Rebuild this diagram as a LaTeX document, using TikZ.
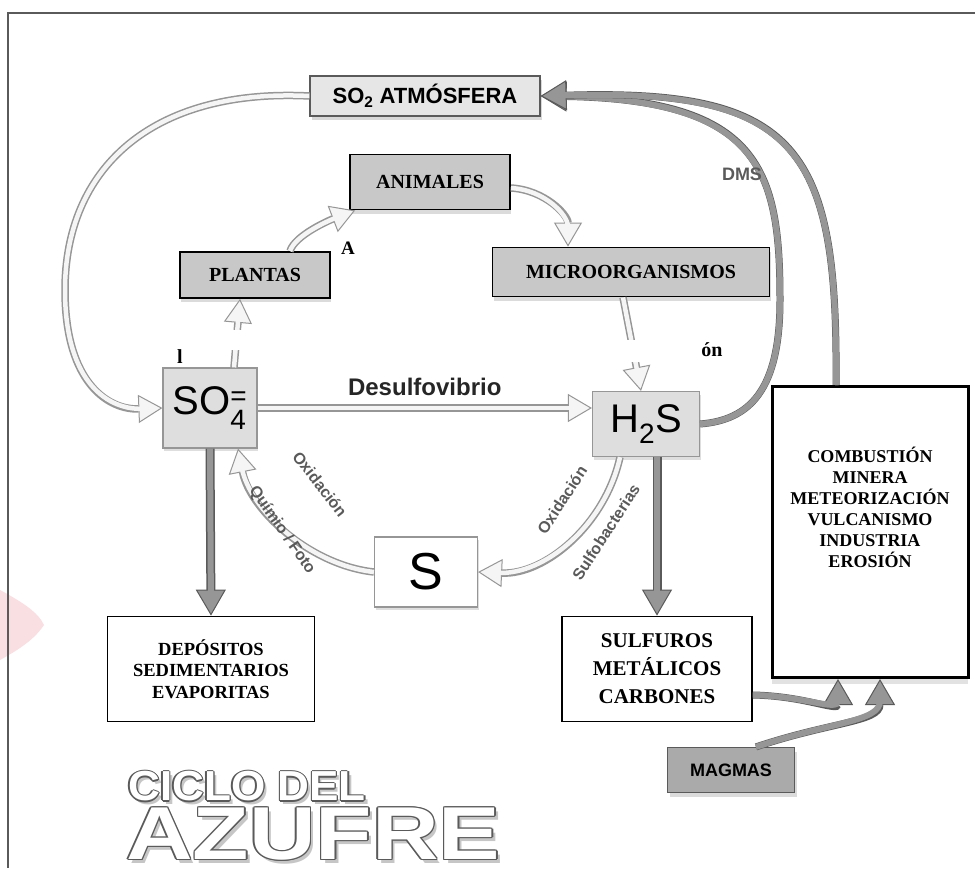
\documentclass[tikz,border=0pt]{standalone}
\usepackage{amsmath}
\usepackage{fontspec}
\setmainfont{Liberation Serif}
\setsansfont{Liberation Sans}
\usepackage{tikz}
\usetikzlibrary{arrows.meta, shadows}
\definecolor{boxgray}{RGB}{200, 200, 200}
\definecolor{palegray}{RGB}{230, 230, 230}
\definecolor{chemgray}{RGB}{222, 222, 222}
\definecolor{darkline}{RGB}{90, 90, 90}
\definecolor{midgray}{RGB}{150, 150, 150}
\definecolor{magmagray}{RGB}{170, 170, 170}
\definecolor{blush}{RGB}{249, 222, 226}

% white letters with a grey rim and a soft shadow
\newcommand{\rimtext}[1]{\leavevmode
  \rlap{\kern3pt\raisebox{-3.5pt}{\textcolor{gray!45}{#1}}}%
  \rlap{\kern1.3pt\textcolor{darkline}{#1}}%
  \rlap{\kern-1.3pt\textcolor{darkline}{#1}}%
  \rlap{\raisebox{1.3pt}{\textcolor{darkline}{#1}}}%
  \rlap{\raisebox{-1.3pt}{\textcolor{darkline}{#1}}}%
  \rlap{\kern0.9pt\raisebox{0.9pt}{\textcolor{darkline}{#1}}}%
  \rlap{\kern-0.9pt\raisebox{0.9pt}{\textcolor{darkline}{#1}}}%
  \rlap{\kern0.9pt\raisebox{-0.9pt}{\textcolor{darkline}{#1}}}%
  \rlap{\kern-0.9pt\raisebox{-0.9pt}{\textcolor{darkline}{#1}}}%
  \textcolor{white}{#1}}

\tikzset{
  orgbox/.style={draw=black, line width=1.8, fill=boxgray,
    font=\bfseries\fontsize{20}{22}\selectfont,
    drop shadow={shadow xshift=1pt, shadow yshift=-4pt, fill=gray!55}},
  rockbox/.style={draw=black, line width=1.8, fill=white, align=center},
  chembox/.style={draw=midgray, line width=1.2, fill=chemgray,
    font=\sffamily\fontsize{40}{42}\selectfont,
    drop shadow={shadow xshift=1pt, shadow yshift=-3pt, fill=gray!50}},
  palearrow/.style={draw=midgray, line width=7.5,
    -{Triangle[length=24pt 0, width=28pt 0, line width=1pt 0, fill=gray!8]},
    postaction={draw=gray!8, line width=4.5, -, shorten >=20pt}},
  deeparrow/.style={draw=darkline, line width=9,
    -{Triangle[length=26pt 0, width=30pt 0, line width=1pt 0, fill=midgray]},
    postaction={draw=midgray, line width=6, -, shorten >=22pt}},
  curlarrow/.style={deeparrow, line width=7,
    postaction={draw=midgray, line width=4, -, shorten >=22pt}},
  tag/.style={font=\sffamily\bfseries\fontsize{16}{18}\selectfont, text=darkline},
}

\begin{document}
\begin{tikzpicture}[x=1pt, y=-1pt]

  \useasboundingbox (0, 0) rectangle (975, 868);
  \fill[white] (0, 0) rectangle (975, 868);

  \fill[blush] (0, 590) .. controls (22, 602) and (38, 612) .. (44, 625)
    .. controls (34, 640) and (18, 650) .. (0, 660) -- cycle;
  \draw[darkline, line width=2.5] (975, 13) -- (8, 13) -- (8, 868);

  % boxes
  \node[draw=darkline, line width=1.2, fill=palegray, minimum width=230, minimum height=40,
    font=\sffamily\bfseries\fontsize{22}{24}\selectfont,
    drop shadow={shadow xshift=2pt, shadow yshift=-4pt, fill=gray!60}]
    (so2) at (425, 96) {SO\textsubscript{2} ATMÓSFERA};
  \node[orgbox, minimum width=160, minimum height=55] (animales) at (430, 182) {ANIMALES};
  \node[orgbox, minimum width=150, minimum height=46] (plantas) at (255, 275) {PLANTAS};
  \node[orgbox, minimum width=277, minimum height=49] (micro) at (631, 272) {MICROORGANISMOS};

  \node[chembox, minimum width=94, minimum height=80] (so4) at (210, 408) {SO$^{\text{=}}_{\text{4}}$};
  \node[chembox, minimum width=107, minimum height=65] (h2s) at (646, 424) {H$_{\text{2}}$S};
  \node[chembox, fill=white, minimum width=103, minimum height=70,
    font=\sffamily\fontsize{52}{54}\selectfont] (s) at (426, 572) {S};

  \node[rockbox, minimum width=207, minimum height=105,
    font=\bfseries\fontsize{18.5}{21.5}\selectfont] (depo) at (211, 669)
    {DEPÓSITOS\\SEDIMENTARIOS\\EVAPORITAS};
  \node[rockbox, minimum width=190, minimum height=105,
    font=\bfseries\fontsize{21}{28}\selectfont] (sulf) at (657, 669)
    {SULFUROS\\METÁLICOS\\CARBONES};
  \node[rockbox, line width=3, minimum width=196, minimum height=291,
    drop shadow={shadow xshift=0pt, shadow yshift=-6pt, fill=gray!45}] (comb) at (870, 532) {};
  \node[align=center, font=\bfseries\fontsize{18}{21}\selectfont] (combtxt) at (870, 507)
    {COMBUSTIÓN\\MINERA\\METEORIZACIÓN\\VULCANISMO\\INDUSTRIA\\EROSIÓN};
  \node[draw=darkline, line width=1.2, fill=magmagray, minimum width=127, minimum height=45,
    font=\sffamily\bfseries\fontsize{18}{20}\selectfont,
    drop shadow={shadow xshift=2pt, shadow yshift=-4pt, fill=gray!55}] (magmas) at (731, 770) {MAGMAS};

  % pale cycle arrows
  \draw[palearrow] (so2.west) .. controls (150, 88) and (65, 170) .. (65, 290)
    .. controls (65, 385) and (110, 410) .. (so4.west);
  \draw[palearrow] (so4.east) -- (so4.east -| h2s.west)
    node[midway, above=5pt, font=\sffamily\bfseries\fontsize{24}{26}\selectfont, text=black!85] (desulfo) {Desulfovibrio};
  \draw[palearrow] ([xshift=24pt]so4.north) -- ([xshift=-15pt]plantas.south);
  \draw[palearrow] ([xshift=35pt]plantas.north) .. controls (295, 235) and (330, 220) .. ([xshift=6pt]animales.south west);
  \draw[palearrow] ([yshift=-6pt]animales.east) .. controls (545, 190) and (568, 215) .. ([xshift=-63pt]micro.north);
  \draw[palearrow] ([xshift=-8pt]micro.south) -- ([xshift=-5pt]h2s.north);
  \draw[palearrow] ([xshift=-26pt]h2s.south) .. controls (605, 525) and (545, 575) .. (s.east);
  \draw[palearrow] (s.west) .. controls (310, 565) and (250, 510) .. ([xshift=28pt]so4.south);

  \node[tag, rotate=57] (oxbac) at (562, 500) {Oxidación};
  \node[tag, rotate=57] (sulfobac) at (606, 532) {Sulfobacterias};
  \node[tag, rotate=-52] (oxfoto) at (320, 484) {Oxidación};
  \node[tag, rotate=-55] (quimio) at (282, 530) {Químio / Foto};

  % grey flows
  \draw[deeparrow] (so4.south) -- (depo.north);
  \draw[deeparrow] (h2s.south -| sulf.north) -- (sulf.north);
  \draw[curlarrow] (h2s.east) .. controls (750, 420) and (780, 390) .. (780, 300)
    .. controls (780, 170) and (760, 100) .. (so2.east);
  \draw[curlarrow] ([xshift=-34pt]comb.north) .. controls (838, 150) and (800, 88) .. (so2.east);
  \draw[curlarrow] ([yshift=-26pt]sulf.east) .. controls (805, 696) and (838, 712) .. ([xshift=-32pt]comb.south);
  \draw[curlarrow] ([xshift=25pt]magmas.north) .. controls (830, 722) and (880, 722) .. ([xshift=10pt]comb.south);
  \node[tag, font=\sffamily\bfseries\fontsize{18}{20}\selectfont] (dms) at (742, 174) {DMS};

  % cut-off patches
  \fill[white] (160, 330) rectangle (360, 350);
  \fill[white] (560, 340) rectangle (760, 362);
  \node[font=\bfseries\fontsize{20}{22}\selectfont] (cutl) at (180, 357) {l};
  \node[font=\bfseries\fontsize{20}{22}\selectfont] (cuton) at (712, 350) {ón};
  \node[font=\bfseries\fontsize{19}{21}\selectfont] (cuta) at (348, 248) {A};

  % title
  \node[anchor=south west, inner sep=0, font=\sffamily\bfseries\fontsize{42}{44}\selectfont] (ciclo) at (128, 805)
    {\scalebox{1.05}[1]{\rimtext{CICLO DEL}}};
  \node[anchor=south west, inner sep=0, font=\sffamily\bfseries\fontsize{75}{77}\selectfont] (azufre) at (126, 864)
    {\scalebox{1.23}[1]{\rimtext{AZUFRE}}};

\end{tikzpicture}
\end{document}
